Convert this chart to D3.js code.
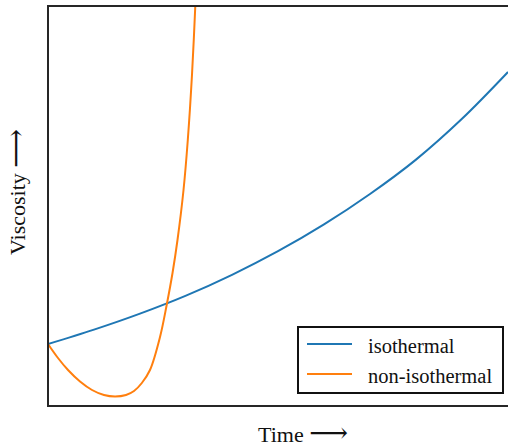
<!DOCTYPE html>
<html><head><meta charset="utf-8">
<script src="https://cdn.jsdelivr.net/npm/d3@7"></script>
<style>html,body{margin:0;padding:0;background:#fff;} svg{display:block;} text{font-family:"Liberation Serif","Times New Roman",Times,"DejaVu Serif",serif;}</style>
</head><body>
<script>
// Data (time in arbitrary units, viscosity in arbitrary units)
const isoTime = [0,1,2,3,4,5,6,7,8,9,10];
const isoVisc = [15.5,19.1,23.1,27.6,32.8,38.7,45.4,53.0,61.6,71.8,83.5];
const nonIsoTime = [0,0.217,0.435,0.696,0.957,1.217,1.457,1.696,1.87,2.04,2.217,2.435,2.58,2.707,2.815,2.946,3.039,3.13,3.202,3.261];
const nonIsoVisc = [15.5,12.0,9.0,6.125,4.0,2.75,2.375,2.75,3.75,5.75,9.0,17.25,25.25,33.25,41.5,54.0,66.5,82.75,100,116.5];
const seriesNames = ["isothermal","non-isothermal"];
const seriesColors = ["#1f77b4","#ff7f0e"];
const xLabel = "Time";
const yLabel = "Viscosity";
const arrow = "\u27F6";

(function(){
const W = 508, H = 446;
const mL = 48, mT = 6, mR = 520, mB = 406;
const svg = d3.select("body").append("svg").attr("width", W).attr("height", H);

const x = d3.scaleLinear().domain([0,10]).range([mL, mL + 460]);
const y = d3.scaleLinear().domain([0,100]).range([mB, mT]);

svg.append("defs").append("clipPath").attr("id","clip")
  .append("rect").attr("x", mL).attr("y", mT).attr("width", mR-mL).attr("height", mB-mT);

const line = d3.line().x(d => x(d[0])).y(d => y(d[1])).curve(d3.curveCatmullRom.alpha(0.5));
const series = [
  d3.zip(isoTime, isoVisc),
  d3.zip(nonIsoTime, nonIsoVisc)
];
const g = svg.append("g").attr("clip-path","url(#clip)");
series.forEach((s,i) => {
  g.append("path").attr("d", line(s)).attr("fill","none")
    .attr("stroke", seriesColors[i]).attr("stroke-width", 2);
});

// frame
svg.append("rect").attr("x", mL).attr("y", mT).attr("width", mR-mL).attr("height", mB-mT)
  .attr("fill","none").attr("stroke","#262626").attr("stroke-width", 2);

// axis labels
const xt = svg.append("text").attr("x", 303).attr("y", 441.5).attr("text-anchor","middle")
  .attr("font-size", 22).attr("fill","#111");
xt.append("tspan").text(xLabel + " ");
xt.append("tspan").attr("font-size", 27).text(arrow);
const yt = svg.append("text").attr("transform","translate(25,192) rotate(-90)").attr("text-anchor","middle")
  .attr("font-size", 22).attr("fill","#111");
yt.append("tspan").text(yLabel + " ");
yt.append("tspan").attr("font-size", 27).text(arrow);

// legend
const lg = svg.append("g");
lg.append("rect").attr("x", 298).attr("y", 327).attr("width", 205).attr("height", 66)
  .attr("fill","#fff").attr("stroke","#111").attr("stroke-width", 2);
seriesNames.forEach((n,i) => {
  const yy = 344 + i*30;
  lg.append("line").attr("x1", 307).attr("x2", 352).attr("y1", yy).attr("y2", yy)
    .attr("stroke", seriesColors[i]).attr("stroke-width", 2);
  lg.append("text").attr("x", 368).attr("y", yy + 8.5)
    .attr("font-size", 20.5).attr("fill","#111").text(n);
});
})();
</script>
</body></html>
